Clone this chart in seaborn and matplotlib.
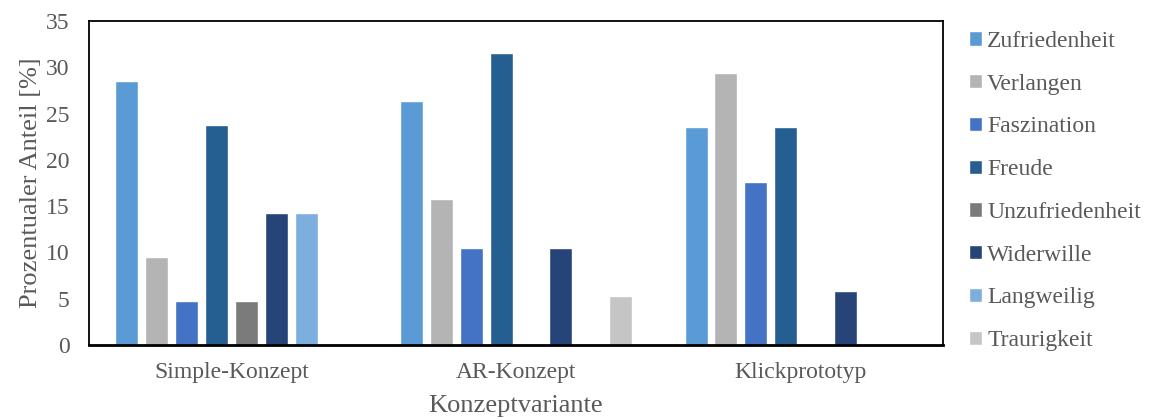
import pandas as pd
import matplotlib
matplotlib.use("Agg")
import matplotlib.pyplot as plt
import seaborn as sns

# Chart data
konzepte = ["Simple-Konzept", "AR-Konzept", "Klickprototyp"]
emotionen = ["Zufriedenheit", "Verlangen", "Faszination", "Freude",
             "Unzufriedenheit", "Widerwille", "Langweilig", "Traurigkeit"]
simple_werte = [28.57, 9.52, 4.76, 23.81, 4.76, 14.29, 14.29, 0]
ar_werte = [26.32, 15.79, 10.53, 31.58, 0, 10.53, 0, 5.26]
klick_werte = [23.53, 29.41, 17.65, 23.53, 0, 5.88, 0, 0]
farben = ["#5B9BD5", "#B4B4B4", "#4472C4", "#255E91",
          "#7B7B7B", "#264478", "#7CAFDD", "#C5C5C5"]

# Build long-form table
rows = []
for konzept, werte in zip(konzepte, [simple_werte, ar_werte, klick_werte]):
    for emo, w in zip(emotionen, werte):
        rows.append({"Konzept": konzept, "Emotion": emo, "Anteil": w})
df = pd.DataFrame(rows)

sns.set_style("white")
plt.rcParams["font.family"] = ["Liberation Serif", "DejaVu Serif"]
text_grey = "#595959"

fig = plt.figure(figsize=(11.5, 4.2), dpi=100)
ax = fig.add_axes([0.0774, 0.1786, 0.7426, 0.7714])

sns.barplot(data=df, x="Konzept", y="Anteil", hue="Emotion",
            order=konzepte, hue_order=emotionen, palette=farben,
            width=0.84, gap=0.23, saturation=1, ax=ax, errorbar=None)

ax.set_ylim(0, 35)
ax.set_yticks(range(0, 36, 5))
ax.set_xlim(-0.5, 2.5)
ax.tick_params(axis="both", length=0, labelsize=17, labelcolor=text_grey)
ax.tick_params(axis="y", pad=14)
ax.tick_params(axis="x", pad=12)
ax.set_ylabel("Prozentualer Anteil [%]", fontsize=19, color=text_grey, labelpad=3)
ax.set_xlabel("Konzeptvariante", fontsize=19, color=text_grey, labelpad=9)

for side in ["left", "top", "right"]:
    ax.spines[side].set_color("black")
    ax.spines[side].set_linewidth(1.3)
ax.spines["bottom"].set_color("black")
ax.spines["bottom"].set_linewidth(2)

handles, labels = ax.get_legend_handles_labels()
ax.legend(handles, labels, loc="upper left", bbox_to_anchor=(1.006, 1.035),
          frameon=False, fontsize=17, labelcolor=text_grey,
          handlelength=0.55, handleheight=0.55, handletextpad=0.2,
          labelspacing=0.92)

fig.savefig("out.png", dpi=100)
